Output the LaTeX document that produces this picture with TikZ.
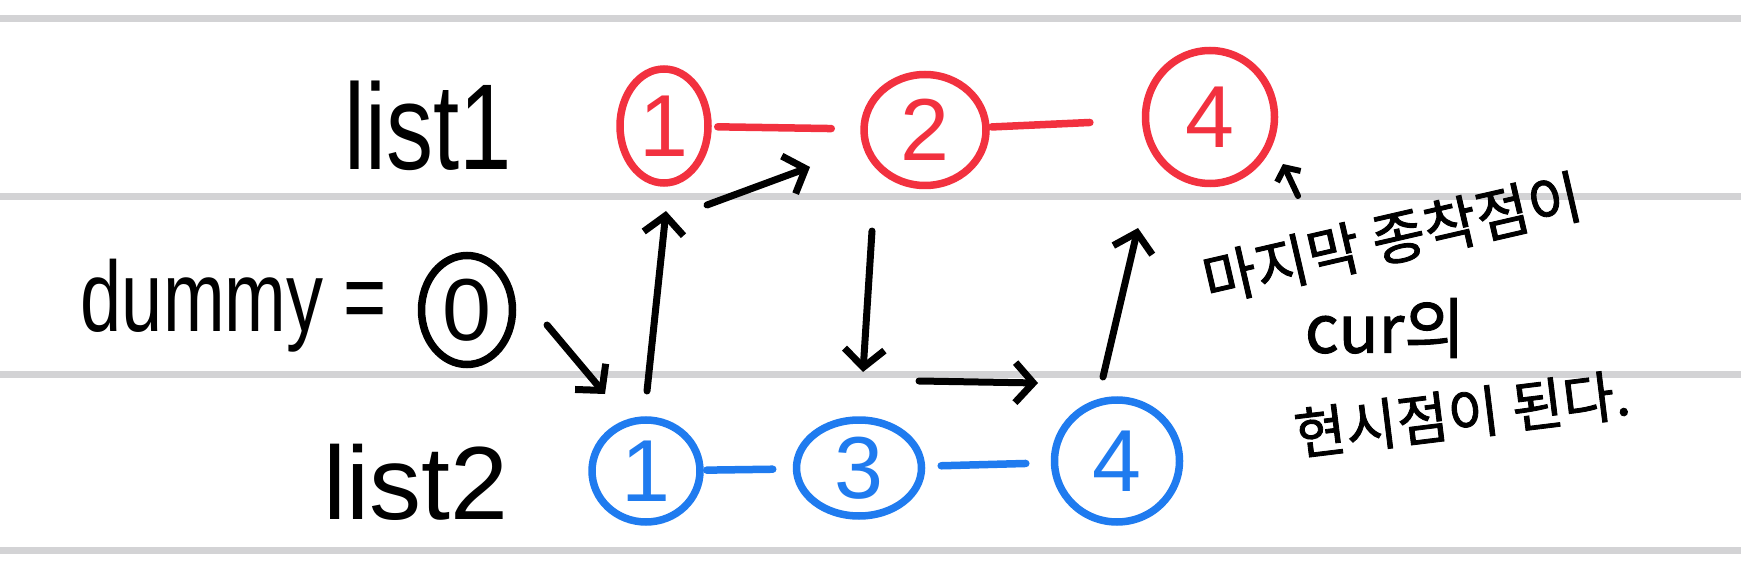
\documentclass[tikz,border=0pt]{standalone}
\usepackage{fontspec}
\usepackage{graphicx}
\setmainfont{Liberation Sans}
\newfontfamily\kr[FakeBold=1.5]{Noto Sans CJK KR}
\usetikzlibrary{shapes.geometric,arrows.meta}
\definecolor{hred}{HTML}{F2313F}
\definecolor{hblue}{HTML}{1F7BEF}
\definecolor{rulegray}{HTML}{D3D3D5}
\begin{document}
\begin{tikzpicture}[x=1pt,y=-1pt,
  ruleline/.style={draw=rulegray,line width=7pt},
  circ/.style={ellipse,draw,line width=7.5pt,inner sep=0pt,font=\fontsize{88}{88}\selectfont},
  redc/.style={circ,draw=hred,text=hred},
  bluec/.style={circ,draw=hblue,text=hblue},
  link/.style={line width=7.5pt,line cap=round},
  arr/.style={line width=7pt,line cap=round,-{Straight Barb[length=18pt,width=40pt,line width=7pt]}},
  txt/.style={inner sep=0pt,text=black},
  krtxt/.style={inner sep=0pt,text=black}]
\useasboundingbox (0,0) rectangle (1741,580);
\fill[white] (0,0) rectangle (1741,580);
% ruled lines
\draw[ruleline] (0,19) -- (1741,19);
\draw[ruleline] (0,197) -- (1741,197);
\draw[ruleline] (0,374) -- (1741,374);
\draw[ruleline] (0,550) -- (1741,550);
% labels
\node[txt,font=\fontsize{94}{94}\selectfont] (l1) at (428,126) {\scalebox{1}[1.3]{list1}};
\node[txt,font=\fontsize{104}{104}\selectfont] (l2) at (416,482) {list2};
\node[txt,font=\fontsize{74}{74}\selectfont] (dm) at (234,306) {\scalebox{1}[1.35]{dummy =}};
% nodes
\node[redc,minimum width=88pt,minimum height=114pt] (r1) at (664,126) {1};
\node[redc,minimum width=122pt,minimum height=111pt] (r2) at (925,130) {2};
\node[redc,minimum width=129pt,minimum height=133pt] (r4) at (1210,117) {4};
\node[circ,minimum width=91pt,minimum height=109pt] (d0) at (467,310) {0};
\node[bluec,minimum width=108pt,minimum height=102pt] (b1) at (646,471) {1};
\node[bluec,minimum width=125pt,minimum height=96pt] (b3) at (859,468) {3};
\node[bluec,minimum width=125pt,minimum height=122pt] (b4) at (1117,461) {4};
% list links
\draw[link,hred,shorten <=6pt,shorten >=29pt] (r1) -- (r2);
\draw[link,hred,shorten <=2pt,shorten >=52pt] (r2) -- (r4);
\draw[link,hblue,shorten <=3pt,shorten >=20pt] (b1) -- (b3);
\draw[link,hblue,shorten <=16pt,shorten >=25pt] (b3) -- (b4);
% merge path arrows
\coordinate (a1s) at (547,325); \coordinate (a1e) at (605,394);
\coordinate (a2s) at (647,391); \coordinate (a2e) at (666,211);
\coordinate (a3s) at (707,205); \coordinate (a3e) at (810,167);
\coordinate (a4s) at (872,231); \coordinate (a4e) at (863,372);
\coordinate (a5s) at (919,381); \coordinate (a5e) at (1038,383);
\coordinate (a6s) at (1103,377); \coordinate (a6e) at (1138,228);
\coordinate (a7s) at (1298,196); \coordinate (a7e) at (1283,164);
\draw[arr] (a1s) -- (a1e);
\draw[arr] (a2s) -- (a2e);
\draw[arr] (a3s) -- (a3e);
\draw[arr] (a4s) -- (a4e);
\draw[arr] (a5s) -- (a5e);
\draw[arr] (a6s) -- (a6e);
\draw[line width=6pt,line cap=round,-{Straight Barb[length=10pt,width=26pt,line width=6pt]}] (a7s) -- (a7e);
% note
\node[krtxt,font=\kr\fontsize{58}{58}\selectfont,rotate=13] (n1) at (1392,238) {마지막 종착점이};
\node[krtxt,font=\kr\fontsize{66}{66}\selectfont] (n2) at (1385,328) {cur의};
\node[krtxt,font=\kr\fontsize{56}{56}\selectfont,rotate=7] (n3) at (1462,414) {현시점이 된다.};
\end{tikzpicture}
\end{document}
